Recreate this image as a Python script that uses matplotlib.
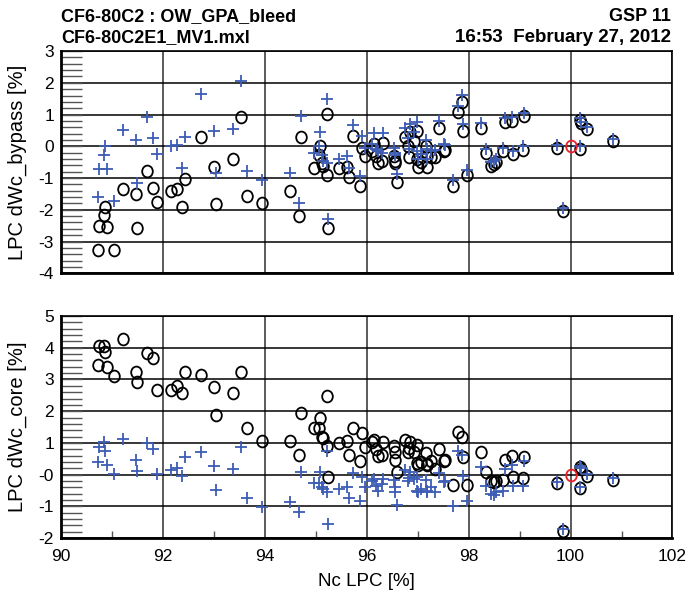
import numpy as np
import matplotlib
matplotlib.use('Agg')
import matplotlib.pyplot as plt
from matplotlib.path import Path
from matplotlib.transforms import Affine2D
from matplotlib.ticker import FixedLocator, MultipleLocator

plt.rcParams['font.family'] = ['Liberation Sans', 'DejaVu Sans']
plt.rcParams['axes.unicode_minus'] = False

# operating points: LPC corrected speed [%]
nc_lpc = [90.72, 90.75, 90.85, 90.86, 90.90, 91.04, 91.22, 91.48, 91.49, 91.69,
          91.81, 91.89, 92.15, 92.28, 92.38, 92.43, 92.74, 93.00, 93.05, 93.37,
          93.53, 93.65, 93.95,
          94.50, 94.67, 94.71, 94.96, 95.07, 95.09, 95.12, 95.14, 95.22, 95.23,
          95.24, 95.45, 95.62, 95.66, 95.73, 95.87, 95.91, 95.97, 96.10, 96.15,
          96.19, 96.23, 96.30, 96.31, 96.54, 96.55, 96.56, 96.59, 96.76, 96.81,
          96.82, 96.84, 96.93, 96.98, 96.99, 97.00, 97.06, 97.17, 97.18, 97.19,
          97.27, 97.34, 97.41, 97.51, 97.53, 97.70, 97.79, 97.87, 97.88, 97.97,
          98.25, 98.34, 98.43, 98.50, 98.54, 98.67, 98.72, 98.86, 98.88, 99.07,
          99.08, 99.74, 99.85, 100.19, 100.19, 100.21, 100.32, 100.83]

# bypass flow deviation, circles (black) and crosses (blue)
bypass_o = [-3.27, -2.50, -2.18, -1.90, -2.53, -3.27, -1.34, -1.51, -2.56, -0.77,
            -1.30, -1.76, -1.42, -1.34, -1.90, -1.03, 0.28, -0.64, -1.81, -0.40,
            0.92, -1.58, -1.79,
            -1.40, -2.21, 0.29, -0.67, -0.27, 0.02, -0.53, -0.62, -0.90, 1.03,
            -2.56, -0.69, -0.64, -0.97, 0.33, -1.24, -0.04, -0.32, -0.14, 0.07,
            -0.32, -0.53, -0.45, 0.10, -0.30, -0.53, -0.45, -1.11, 0.28, 0.00,
            -0.34, 0.45, 0.18, 0.49, -0.39, -0.64, -0.48, 0.00, -0.32, -0.64,
            -0.35, -0.34, 0.57, -0.16, -0.12, -1.24, 1.07, 1.41, 0.47, -0.92,
            0.57, -0.22, -0.62, -0.55, -0.51, -0.14, 0.78, 0.81, -0.25, -0.11,
            0.94, -0.04, -2.03, -0.08, 0.84, 0.73, 0.55, 0.18]
bypass_x = [-1.61, -0.72, -0.29, 0.00, -0.72, -1.71, 0.52, 0.21, -1.16, 0.91,
            0.25, -0.25, 0.00, 0.04, -0.67, 0.28, 1.66, 0.47, -0.83, 0.56,
            2.07, -0.77, -1.06,
            -0.85, -1.79, 0.94, -0.21, 0.02, 0.44, -0.27, -0.45, -0.53, 1.50,
            -2.29, -0.39, -0.32, -0.67, 0.68, -0.95, 0.31, -0.05, 0.07, 0.42,
            -0.10, -0.14, -0.20, 0.42, -0.06, -0.27, -0.20, -0.88, 0.57, 0.25,
            -0.10, 0.71, 0.45, 0.75, -0.16, -0.40, -0.25, 0.21, -0.10, -0.40,
            -0.14, -0.12, 0.80, 0.08, 0.05, -1.06, 1.28, 1.62, 0.70, -0.74,
            0.73, -0.08, -0.50, -0.45, -0.40, -0.04, 0.90, 0.92, -0.14, 0.00,
            1.04, 0.04, -1.95, 0.00, 0.90, 0.78, 0.60, 0.24]

# core flow deviation
core_o = [3.47, 4.07, 4.07, 3.88, 3.39, 3.10, 4.26, 3.25, 2.91, 3.83,
          3.67, 2.68, 2.68, 2.81, 2.57, 3.23, 3.15, 2.75, 1.89, 2.57,
          3.23, 1.46, 1.05,
          1.07, 0.63, 1.93, 1.46, 1.46, 1.78, 1.20, 1.15, 0.91, 2.47,
          -0.08, 0.99, 1.07, 0.63, 1.46, 0.44, 1.31, 0.88, 1.02, 1.10,
          0.81, 0.60, 0.63, 1.02, 0.89, 0.70, 0.47, 0.07, 1.10, 0.70,
          0.85, 1.02, 0.70, 0.94, 0.37, 0.31, 0.40, 0.67, 0.34, 0.30,
          0.42, 0.18, 0.81, 0.42, 0.47, -0.32, 1.36, 1.20, 0.57, -0.32,
          0.70, 0.07, -0.19, -0.24, -0.20, -0.16, 0.47, 0.58, -0.08, -0.12,
          0.57, -0.27, -1.77, -0.43, 0.23, 0.17, -0.03, -0.16]
core_x = [0.39, 0.86, 1.02, 0.76, 0.32, 0.02, 1.13, 0.46, 0.13, 0.99,
          0.81, 0.02, 0.15, 0.20, -0.03, 0.57, 0.70, 0.28, -0.47, 0.18,
          0.88, -0.74, -1.03,
          -0.85, -1.17, 0.07, -0.27, -0.27, 0.10, -0.38, -0.45, -0.56, 0.76,
          -1.56, -0.45, -0.40, -0.74, 0.04, -0.84, -0.06, -0.38, -0.21, -0.14,
          -0.36, -0.50, -0.30, -0.14, -0.18, -0.39, -0.55, -0.95, 0.15, -0.19,
          -0.10, 0.07, -0.14, -0.08, -0.50, -0.56, -0.45, -0.17, -0.50, -0.55,
          -0.40, -0.55, 0.05, -0.24, -0.20, -0.98, 0.74, 0.63, -0.03, -0.84,
          0.23, -0.35, -0.61, -0.64, -0.56, -0.50, 0.18, 0.31, -0.35, -0.35,
          0.43, -0.24, -1.72, -0.38, 0.28, 0.21, 0.02, -0.12]

# design point
ref_nc = [100.0]
ref_dwc = [0.0]

bypass_ticks = [3, 2, 1, 0, -1, -2, -3, -4]
bypass_labels = ['3', '2', '1', '0', '-1', '-2', '-3', '-4']
core_ticks = [5, 4, 3, 2, 1, 0, -1, -2]
core_labels = ['5', '4', '3', '2', '1', '-0', '-1', '-2']
x_ticks = [90, 92, 94, 96, 98, 100, 102]

blue = '#3d5cb4'
# "O" shaped marker, a bit narrower than tall
oval = Affine2D().scale(0.9, 1.0).transform_path(Path.unit_circle())

fig = plt.figure(figsize=(6.89, 5.94), dpi=100)
ax1 = fig.add_axes([0.0885, 0.540, 0.8875, 0.374])
ax2 = fig.add_axes([0.0885, 0.094, 0.8875, 0.374])


def style(ax, ticks, labels, ylabel, show_x):
    ax.set_xlim(90, 102)
    ax.set_ylim(min(ticks), max(ticks))
    ax.yaxis.set_major_locator(FixedLocator(ticks))
    ax.set_yticklabels(labels)
    ax.yaxis.set_minor_locator(MultipleLocator(0.2))
    ax.xaxis.set_major_locator(FixedLocator(x_ticks))
    ax.grid(axis='y', color='black', lw=1.1)
    ax.grid(axis='x', color='#5a5a5a', lw=1.4)
    ax.set_axisbelow(True)
    ax.tick_params(axis='y', which='both', direction='in', length=15,
                   width=1.0, color='#555555', labelsize=12.5, pad=5)
    ax.tick_params(axis='x', which='major', length=0, labelsize=12.5, pad=8)
    if show_x:
        ax.xaxis.set_minor_locator(MultipleLocator(1))
        ax.tick_params(axis='x', which='minor', direction='in', length=5,
                       width=1.0, color='#555555')
        ax.set_xlabel('Nc LPC [%]', fontsize=13.5, labelpad=6)
    else:
        ax.set_xticklabels([])
    ax.set_ylabel(ylabel, fontsize=14.5, labelpad=8)
    for side in ['left', 'bottom']:
        ax.spines[side].set_linewidth(2.0)
    for side in ['top', 'right']:
        ax.spines[side].set_linewidth(1.2)


for ax, yo, yx in [(ax1, bypass_o, bypass_x), (ax2, core_o, core_x)]:
    ax.plot(nc_lpc, yo, ls='none', marker=oval, mfc='none', mec='black',
            ms=8.5, mew=1.3)
    ax.plot(nc_lpc, yx, '+', color=blue, ms=9, mew=1.3)
    ax.plot(ref_nc, ref_dwc, ls='none', marker=oval, mfc='none',
            mec='#e8202a', ms=8.5, mew=1.3)

style(ax1, bypass_ticks, bypass_labels, 'LPC dWc_bypass [%]', False)
style(ax2, core_ticks, core_labels, 'LPC dWc_core [%]', True)

fig.text(0.0885, 0.964, 'CF6-80C2 : OW_GPA_bleed', fontsize=13,
         fontweight='bold', va='baseline')
fig.text(0.0885, 0.929, 'CF6-80C2E1_MV1.mxl', fontsize=13,
         fontweight='bold', va='baseline')
fig.text(0.974, 0.964, 'GSP 11', fontsize=13, fontweight='bold',
         ha='right', va='baseline')
fig.text(0.974, 0.929, '16:53  February 27, 2012', fontsize=13.5,
         fontweight='bold', ha='right', va='baseline')

fig.savefig('out.png', dpi=100)
